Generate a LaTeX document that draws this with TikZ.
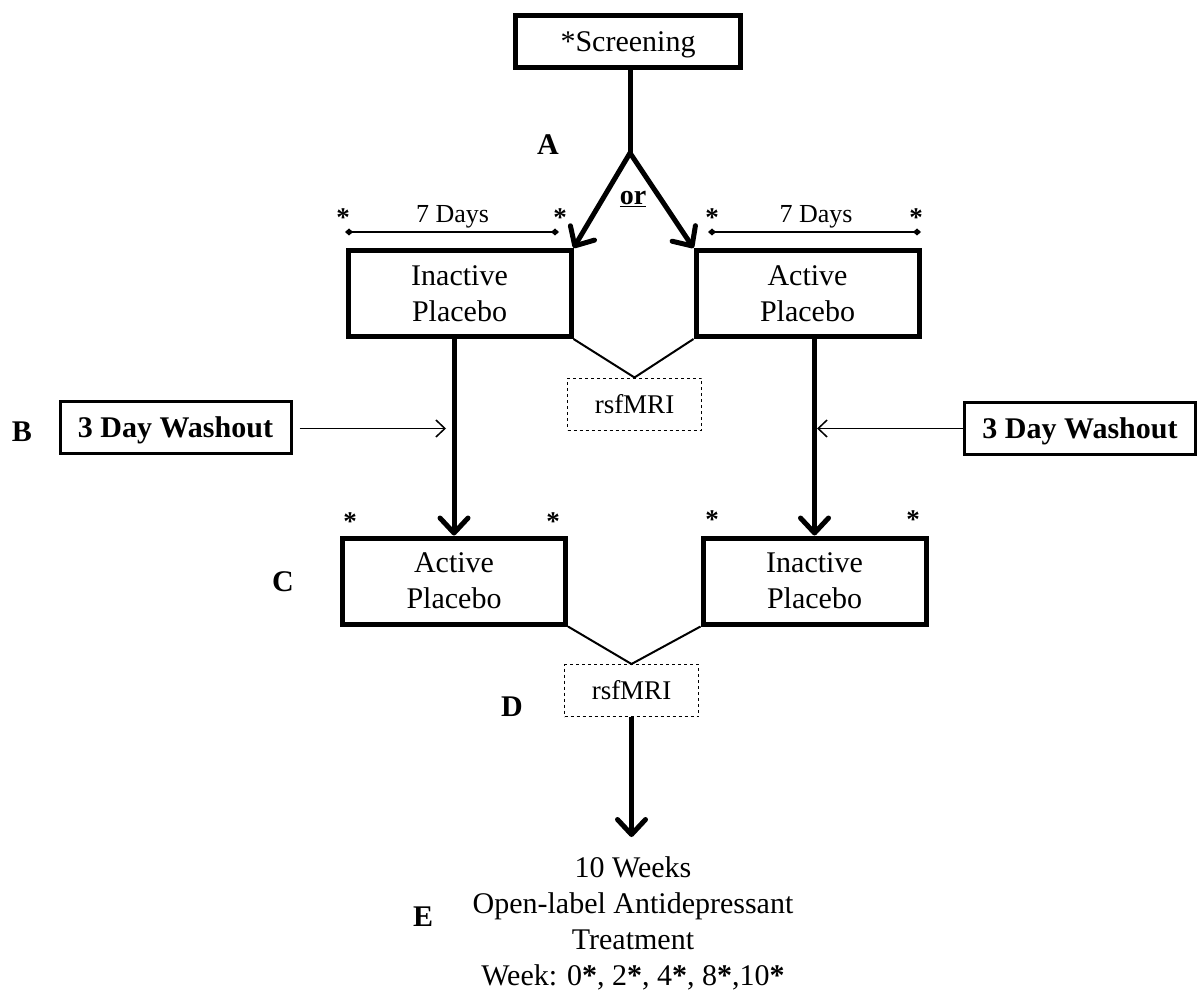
\documentclass[tikz,border=0pt]{standalone}
\usepackage{fontspec}
\setmainfont{Liberation Serif}
\usetikzlibrary{arrows.meta,calc}
\begin{document}
\begin{tikzpicture}[x=1pt,y=-1pt,
  bigbox/.style={draw,line width=5pt,minimum width=223pt,minimum height=86pt,inner sep=0pt,align=center,font=\fontsize{30}{36}\selectfont},
  washbox/.style={draw,line width=3pt,minimum width=231pt,minimum height=52pt,inner sep=0pt,text depth=0pt,font=\fontsize{30}{36}\selectfont\bfseries},
  mribox/.style={draw,dashed,line width=1pt,minimum width=134pt,minimum height=52pt,inner sep=0pt,font=\fontsize{27}{32}\selectfont},
  thickarrow/.style={line width=5pt,-{Straight Barb[length=15pt,width=28pt,line cap=round,line join=round]}},
  thinarrow/.style={line width=1.5pt,-{Straight Barb[length=9pt,width=17pt]}},
  joinline/.style={line width=2pt},
  dayline/.style={line width=2pt,{Diamond[length=8pt,width=7pt]}-{Diamond[length=8pt,width=7pt]}},
  lbl/.style={font=\fontsize{30}{36}\selectfont\bfseries,anchor=base},
  starlbl/.style={font=\fontsize{27}{32}\selectfont\bfseries,anchor=base},
  daytxt/.style={font=\fontsize{26}{32}\selectfont,anchor=base},
  bodytxt/.style={font=\fontsize{30}{36}\selectfont,anchor=base}]
\useasboundingbox (0,0) rectangle (1198,992);

% boxes
\node[draw,line width=5pt,minimum width=225pt,minimum height=52pt,inner sep=0pt,text depth=0pt,font=\fontsize{30}{36}\selectfont] (scr) at (628,41.5) {*Screening};
\node[bigbox] (ip1) at (459.5,293.5) {Inactive\\Placebo};
\node[bigbox] (ap1) at (807.5,293.5) {Active\\Placebo};
\node[bigbox] (ap2) at (454,581) {Active\\Placebo};
\node[bigbox] (ip2) at (814.5,581) {Inactive\\Placebo};
\node[mribox] (mri1) at (634.5,404) {rsfMRI};
\node[mribox] (mri2) at (631.5,690.5) {rsfMRI};
\node[washbox] (w1) at (175.5,427.5) {3 Day Washout};
\node[washbox] (w2) at (1080,428.5) {3 Day Washout};

% fork
\coordinate (fork) at (630,153);
\draw[line width=5pt] (scr.south -| fork) -- (fork);
\draw[thickarrow] (fork) -- (ip1.north east);
\draw[thickarrow] (fork) -- (ap1.north west);
\node[font=\fontsize{28}{32}\selectfont\bfseries,anchor=base] (or) at (633,205) {\underline{or}};

% vertical arrows
\draw[thickarrow] (ap2.north |- ip1.south) -- (ap2.north);
\draw[thickarrow] (ip2.north |- ap1.south) -- (ip2.north);
\draw[thickarrow] (mri2.south) -- ++(0,120) coordinate (tend);

% washout arrows
\coordinate (w1end) at (446,428.5);
\coordinate (w2end) at (817,428.5);
\draw[thinarrow] ($(w1.east)+(7,1)$) -- (w1end);
\draw[thinarrow] (w2.west) -- (w2end);

% rsfMRI joins
\draw[joinline] (ip1.south east) -- (mri1.north) -- (ap1.south west);
\draw[joinline] (ap2.south east) -- (mri2.north) -- (ip2.south west);

% 7 days
\coordinate (d1a) at (345,232); \coordinate (d1b) at (559,232);
\coordinate (d2a) at (708,232); \coordinate (d2b) at (921,232);
\draw[dayline] (d1a) -- (d1b);
\draw[dayline] (d2a) -- (d2b);
\node[daytxt] (t1) at (452.5,223) {7 Days};
\node[daytxt] (t2) at (816,223) {7 Days};

% stars
\node[starlbl] (s1) at (343,227) {*};
\node[starlbl] (s2) at (560,227) {*};
\node[starlbl] (s3) at (712,227) {*};
\node[starlbl] (s4) at (916,227) {*};
\node[starlbl] (s5) at (350,530) {*};
\node[starlbl] (s6) at (553,530) {*};
\node[starlbl] (s7) at (712,528) {*};
\node[starlbl] (s8) at (913,528) {*};

% letters
\node[lbl] (A) at (548,155) {A};
\node[lbl] (B) at (22,441) {B};
\node[lbl] (C) at (283,591) {C};
\node[lbl] (D) at (512,716) {D};
\node[lbl] (E) at (423,926) {E};

% bottom text
\node[bodytxt] (e1) at (633,877) {10 Weeks};
\node[bodytxt] (e2) at (633,913) {Open-label Antidepressant};
\node[bodytxt] (e3) at (633,949) {Treatment};
\node[bodytxt] (e4) at (633,985) {Week: 0\textbf{*}, 2\textbf{*}, 4\textbf{*}, 8\textbf{*},10\textbf{*}};
\end{tikzpicture}
\end{document}
